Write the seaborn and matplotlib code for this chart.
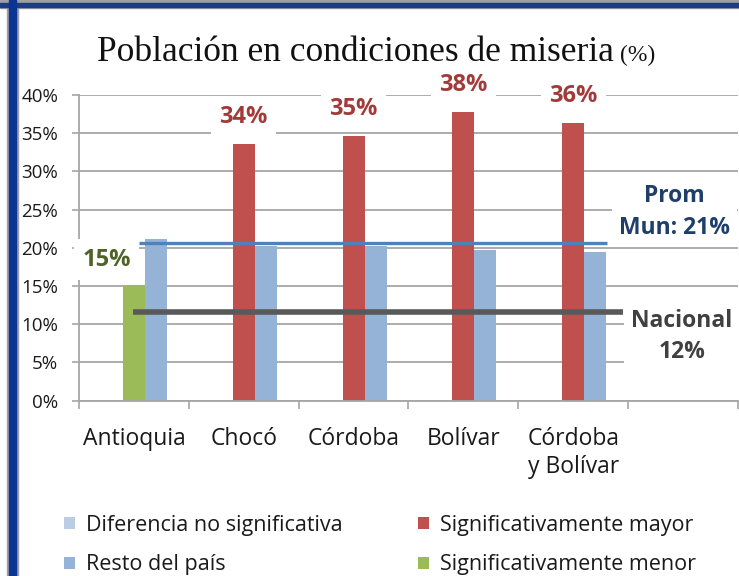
import numpy as np
import pandas as pd
import matplotlib
matplotlib.use("Agg")
import matplotlib.pyplot as plt
import seaborn as sns
from matplotlib.patches import Patch, Rectangle

# ---------------- data ----------------
categorias = ["Antioquia", "Chocó", "Córdoba", "Bolívar", "Córdoba\ny Bolívar"]
slot_extra = [""]                      # empty slot at the right end
depto = [15.2, 33.6, 34.6, 37.8, 36.3]  # % in the department
resto = [21.2, 20.2, 20.2, 19.7, 19.4]  # % rest of the country
significancia = ["menor", "mayor", "mayor", "mayor", "mayor"]
prom_mun = 20.6
nacional = 11.6
y_ticks = [0, 5, 10, 15, 20, 25, 30, 35, 40]
leyenda = ["Diferencia no significativa", "Resto del país",
           "Significativamente mayor", "Significativamente menor"]

# ---------------- style ----------------
sns.set_theme(style="white")
plt.rcParams["font.family"] = ["Open Sans", "DejaVu Sans"]

C_RED = "#C0504D"
C_GREEN = "#9BBB59"
C_BLUE = "#95B3D7"
C_LBLUE = "#B9CDE5"
C_GRID = "#A6A6A6"
sig_color = {"mayor": C_RED, "menor": C_GREEN}
sig_text = {"mayor": "#A33A3A", "menor": "#4F6228"}

W, H = 739, 576
fig = plt.figure(figsize=(W / 100, H / 100), dpi=100)
fig.patch.set_facecolor("white")
ax = fig.add_axes([79 / W, 1 - 400.7 / H, (738 - 79) / W, (400.7 - 95) / H])

df = pd.DataFrame({
    "cat": categorias * 2,
    "serie": ["Departamento"] * len(categorias) + ["Resto del país"] * len(categorias),
    "valor": depto + resto,
})
hue_order = ["Diferencia no significativa", "Departamento", "Resto del país"]
palette = {"Diferencia no significativa": C_LBLUE, "Departamento": C_RED,
           "Resto del país": C_BLUE}
sns.barplot(data=df, x="cat", y="valor", hue="serie", hue_order=hue_order,
            order=categorias + slot_extra, palette=palette, width=0.6,
            linewidth=0, saturation=1, legend=False, ax=ax, zorder=1)

# department bars: recolour by significance (match bar by x-centre)
for patch in ax.patches:
    cx = patch.get_x() + patch.get_width() / 2
    idx = int(round(cx))
    if abs(cx - idx) < 0.05 and 0 <= idx < len(categorias) and patch.get_height() > 0:
        patch.set_facecolor(sig_color[significancia[idx]])

n_slots = len(categorias) + len(slot_extra)
ax.set_xlim(-0.5, n_slots - 0.5)
ax.set_ylim(0, y_ticks[-1])
ax.set_yticks(y_ticks)
ax.set_yticklabels([f"{v}%" for v in y_ticks])
ax.set_xlabel("")
ax.set_ylabel("")

# x ticks: marks at boundaries, labels at centres
ax.set_xticks(np.arange(-0.5, n_slots, 1.0))
ax.set_xticklabels([""] * (n_slots + 1))
ax.set_xticks(np.arange(len(categorias)), minor=True)
ax.set_xticklabels(categorias, minor=True)
ax.tick_params(axis="x", which="major", length=6, width=1.2, color=C_GRID,
               direction="out", bottom=True)
ax.tick_params(axis="x", which="minor", length=0, pad=19, labelsize=16.5,
               labelcolor="#1a1a1a")
ax.tick_params(axis="y", length=5, width=1.2, color=C_GRID, direction="out",
               left=True, pad=10, labelsize=13.5, labelcolor="#1a1a1a")

ax.grid(axis="y", color=C_GRID, linewidth=1.3)
ax.set_axisbelow(True)
for side in ["top", "right"]:
    ax.spines[side].set_visible(False)
for side in ["left", "bottom"]:
    ax.spines[side].set_color(C_GRID)
    ax.spines[side].set_linewidth(1.3)
ax.spines["left"].set_zorder(0.6)

# reference lines
x0 = 0
xl = len(categorias) - 1
ax.plot([x0 + 0.045, xl + 0.31], [prom_mun, prom_mun], color="#4F81BD", lw=2.4,
        zorder=3, solid_capstyle="butt")
ax.plot([x0 - 0.01, xl + 0.455], [nacional, nacional], color="#595959", lw=4,
        zorder=3, solid_capstyle="butt")

box = dict(boxstyle="square,pad=0.35", fc="white", ec="none")
for i, (v, s) in enumerate(zip(depto, significancia)):
    dx = -19.5 if s == "menor" else 0
    dy = 18 if s == "menor" else 19.5
    ax.annotate(f"{v:.0f}%", xy=(i, v), xytext=(dx, dy), textcoords="offset points",
                ha="center", va="center", fontsize=17, fontweight="bold",
                color=sig_text[s], bbox=box, zorder=0.8)

ax.annotate(f"Prom\nMun: {prom_mun:.0f}%", xy=(xl + 0.92, prom_mun), xytext=(0, 22.5),
            textcoords="offset points", ha="center", va="center", fontsize=16.5,
            fontweight="bold", color="#1F3F6B", linespacing=1.4,
            bbox=dict(boxstyle="square,pad=0.3", fc="white", ec="none"),
            zorder=0.8, annotation_clip=False)
ax.annotate(f"Nacional\n{nacional:.0f}%", xy=(xl + 0.99, nacional), xytext=(0, -17.5),
            textcoords="offset points", ha="center", va="center", fontsize=16.5,
            fontweight="bold", color="#404040", linespacing=1.4,
            bbox=dict(boxstyle="square,pad=0.3", fc="white", ec="none"),
            zorder=0.8, annotation_clip=False)

# title
t1 = fig.text(97 / W, 1 - 61 / H, "Población en condiciones de miseria",
              family="Liberation Serif", fontsize=25.5, color="#111111",
              ha="left", va="baseline")
fig.canvas.draw()
bb = t1.get_window_extent(fig.canvas.get_renderer())
fig.text((bb.x1 + 6) / W, 1 - 61 / H, "(%)", family="Liberation Serif",
         fontsize=17, color="#111111", ha="left", va="baseline")

# legend (two columns)
handles = {
    "Diferencia no significativa": C_LBLUE,
    "Resto del país": C_BLUE,
    "Significativamente mayor": C_RED,
    "Significativamente menor": C_GREEN,
}
kw = dict(frameon=False, fontsize=15.5, handlelength=0.5, handleheight=0.5,
          handletextpad=0.5, labelspacing=0.85, borderaxespad=0, borderpad=0,
          labelcolor="#1a1a1a")
col1 = [Patch(facecolor=handles[k], edgecolor="none", label=k) for k in leyenda[:2]]
col2 = [Patch(facecolor=handles[k], edgecolor="none", label=k) for k in leyenda[2:]]
fig.legend(handles=col1, loc="upper left", bbox_to_anchor=(64 / W, 1 - 515 / H), **kw)
fig.legend(handles=col2, loc="upper left", bbox_to_anchor=(418 / W, 1 - 515 / H), **kw)

# screenshot frame
fig.add_artist(Rectangle((0, 1 - 8 / H), 1, 8 / H, transform=fig.transFigure,
                         color="#A0A0A0", zorder=5))
fig.add_artist(Rectangle((0, 1 - 6.5 / H), 1, 3.5 / H, transform=fig.transFigure,
                         color="#1B3C8C", zorder=6))
fig.add_artist(Rectangle((6.5 / W, 0), 11 / W, 1, transform=fig.transFigure,
                         color="#A0A0A0", zorder=5))
fig.add_artist(Rectangle((8.5 / W, 0), 7 / W, 1, transform=fig.transFigure,
                         color="#0B3594", zorder=6))

fig.savefig("out.png", dpi=100, facecolor="white")
